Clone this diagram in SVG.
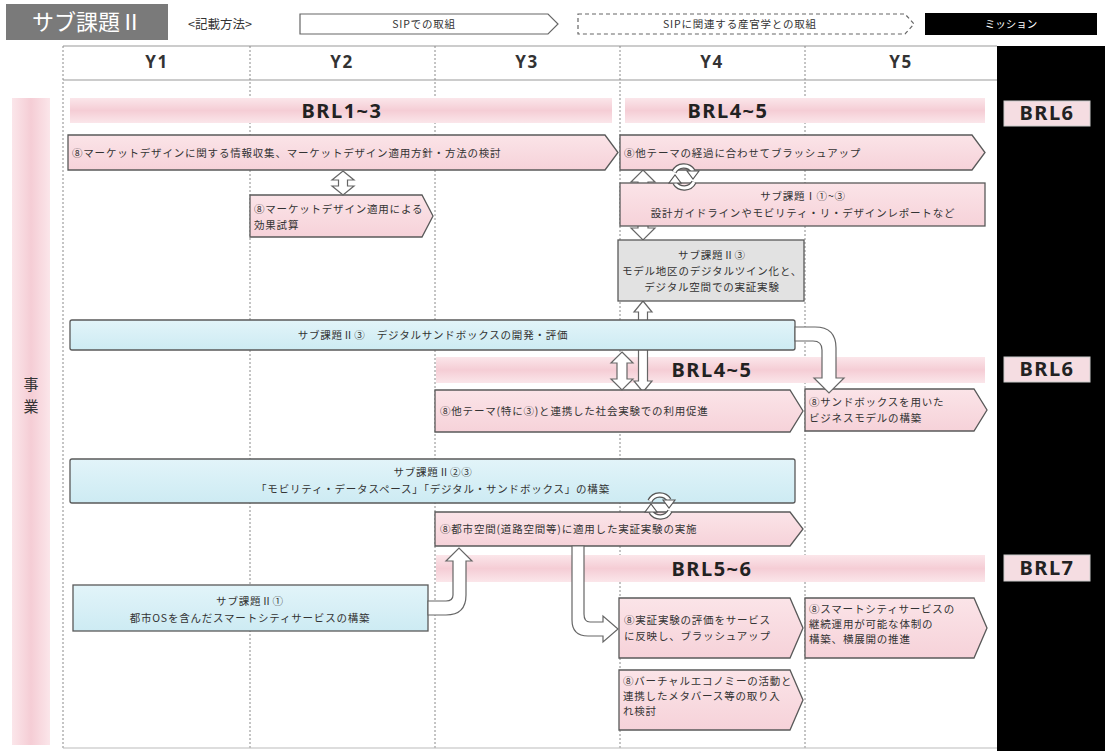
<svg xmlns="http://www.w3.org/2000/svg" width="1105" height="751" viewBox="0 0 1105 751">
<defs>
<style>
.jp{font-family:"Noto Sans CJK JP","Noto Sans",sans-serif;}
.t{font-family:"Noto Sans CJK JP","Noto Sans",sans-serif;font-size:10.5px;letter-spacing:0.8px;fill:#333;}
.tc{text-anchor:middle;}
.brl{font-family:"Noto Sans","Noto Sans CJK JP",sans-serif;font-weight:bold;font-size:20px;letter-spacing:1.5px;fill:#222;text-anchor:middle;}
.yh{font-family:"Noto Sans","Liberation Sans",sans-serif;font-weight:bold;font-size:17px;letter-spacing:1.5px;fill:#333;text-anchor:middle;}
.pent{fill:url(#pk);stroke:#595959;stroke-width:1.3;}
.blue{fill:url(#bl);stroke:#595959;stroke-width:1.3;}
.gray{fill:#e2e2e2;stroke:#595959;stroke-width:1.3;}
.band{fill:url(#band);}
.div{stroke:#8a8a8a;stroke-width:1;stroke-dasharray:2 2;fill:none;}
.hl{fill:#fff;stroke:#666;stroke-width:1.2;}
.mis{fill:#f5dde2;stroke:#ccc;stroke-width:1;}
</style>
<linearGradient id="band" x1="0" y1="0" x2="0" y2="1">
<stop offset="0" stop-color="#fbe6ea"/><stop offset="0.5" stop-color="#f5cdd5"/><stop offset="1" stop-color="#fbe6ea"/>
</linearGradient>
<linearGradient id="vband" x1="0" y1="0" x2="1" y2="0">
<stop offset="0" stop-color="#fbe6ea"/><stop offset="0.5" stop-color="#f5cdd5"/><stop offset="1" stop-color="#fbe6ea"/>
</linearGradient>
<linearGradient id="pk" x1="0" y1="0" x2="0" y2="1">
<stop offset="0" stop-color="#fbe4e8"/><stop offset="1" stop-color="#f6d2d9"/>
</linearGradient>
<linearGradient id="bl" x1="0" y1="0" x2="0" y2="1">
<stop offset="0" stop-color="#e2f4f9"/><stop offset="1" stop-color="#cdebf3"/>
</linearGradient>
<symbol id="cyc" viewBox="-16 -16 32 32" overflow="visible">
<path d="M-10,-5 A11,11 0 0 1 9,-6" fill="none" stroke="#555" stroke-width="5.5"/>
<path d="M-10,-5 A11,11 0 0 1 9,-6" fill="none" stroke="#fff" stroke-width="3"/>
<polygon points="3,-6 15,-6 9,2" fill="#fff" stroke="#555" stroke-width="1.1"/>
<path d="M10,5 A11,11 0 0 1 -9,6" fill="none" stroke="#555" stroke-width="5.5"/>
<path d="M10,5 A11,11 0 0 1 -9,6" fill="none" stroke="#fff" stroke-width="3"/>
<polygon points="-3,6 -15,6 -9,-2" fill="#fff" stroke="#555" stroke-width="1.1"/>
</symbol>
</defs>
<rect width="1105" height="751" fill="#fff"/>

<!-- legend header -->
<g id="title">
<rect x="6" y="4" width="162" height="36" fill="#7a7a7a"/>
<text x="87" y="30" class="jp" font-size="22" fill="#fff" text-anchor="middle">サブ課題Ⅱ</text>
</g>
<g id="legend">
<text x="188" y="29" class="jp" font-size="12.5" fill="#333">&lt;記載方法&gt;</text>
<path d="M300,14 L548,14 L558,24 L548,34 L300,34 Z" fill="#fff" stroke="#666" stroke-width="1.2"/>
<text x="424" y="28" class="t tc">SIPでの取組</text>
<path d="M578,14 L905,14 L914,24 L905,34 L578,34 Z" fill="#fff" stroke="#666" stroke-width="1.2" stroke-dasharray="4 3"/>
<text x="740" y="28" class="t tc">SIPに関連する産官学との取組</text>
<rect x="925" y="13" width="172" height="22" fill="#000"/>
<text x="1011" y="28" class="jp" font-size="10.5" fill="#fff" text-anchor="middle">ミッション</text>
</g>

<!-- grid -->
<g id="grid">
<rect x="997" y="46" width="108" height="705" fill="#000"/>
<line x1="63" y1="46" x2="997" y2="46" stroke="#999" stroke-width="1"/>
<line x1="63" y1="80" x2="997" y2="80" stroke="#999" stroke-width="1"/>
<line x1="63" y1="46" x2="63" y2="748" class="div"/>
<line x1="250" y1="46" x2="250" y2="748" class="div"/>
<line x1="435" y1="46" x2="435" y2="748" class="div"/>
<line x1="620" y1="46" x2="620" y2="748" class="div"/>
<line x1="805" y1="46" x2="805" y2="748" class="div"/>
<line x1="63" y1="748" x2="997" y2="748" stroke="#bbb" stroke-width="1"/>
<text x="157" y="68" class="yh">Y1</text>
<text x="342" y="68" class="yh">Y2</text>
<text x="527" y="68" class="yh">Y3</text>
<text x="712" y="68" class="yh">Y4</text>
<text x="901" y="68" class="yh">Y5</text>
</g>

<!-- side label -->
<g id="side">
<rect x="12" y="98" width="38" height="647" fill="url(#vband)"/>
<text x="31" y="390" class="jp" font-size="15" fill="#333" text-anchor="middle">事</text>
<text x="31" y="412" class="jp" font-size="15" fill="#333" text-anchor="middle">業</text>
</g>

<!-- BRL bands -->
<g id="bands">
<rect x="70" y="98" width="542" height="25" class="band"/>
<text x="342" y="118" class="brl">BRL1~3</text>
<rect x="625" y="98" width="360" height="25" class="band"/>
<text x="728" y="118" class="brl">BRL4~5</text>
<rect x="436" y="357" width="549" height="26" class="band"/>
<text x="712" y="377" class="brl">BRL4~5</text>
<rect x="436" y="555" width="549" height="27" class="band"/>
<text x="712" y="576" class="brl">BRL5~6</text>
</g>

<!-- mission column -->
<g id="mission">
<rect x="1004" y="101" width="86" height="25" class="mis"/>
<text x="1047" y="120" class="brl">BRL6</text>
<rect x="1004" y="357" width="86" height="25" class="mis"/>
<text x="1047" y="376" class="brl">BRL6</text>
<rect x="1004" y="555" width="86" height="26" class="mis"/>
<text x="1047" y="575" class="brl">BRL7</text>
</g>

<!-- connectors behind nodes -->
<g id="connectors-back">
<path d="M643,170 L655,182 L648,182 L648,228 L655,228 L643,240 L631,228 L638,228 L638,182 L631,182 Z" class="hl"/>
<path d="M643,301 L652,312 L647.5,312 L647.5,381 L652,381 L643,392 L634,381 L638.5,381 L638.5,312 L634,312 Z" class="hl"/>
</g>

<!-- nodes -->
<g id="n1">
<path d="M68,135 L605,135 L618,152.5 L605,170 L68,170 Z" class="pent"/>
<text x="72" y="157" class="t">⑧マーケットデザインに関する情報収集、マーケットデザイン適用方針・方法の検討</text>
</g>
<g id="n2">
<path d="M620,135 L972,135 L985,152.5 L972,170 L620,170 Z" class="pent"/>
<text x="624" y="157" class="t">⑧他テーマの経過に合わせてブラッシュアップ</text>
</g>
<g id="n3">
<rect x="620" y="183" width="365" height="43" class="pent"/>
<text x="803" y="200" class="t tc">サブ課題Ⅰ①~③</text>
<text x="803" y="217" class="t tc">設計ガイドラインやモビリティ・リ・デザインレポートなど</text>
</g>
<g id="n4">
<path d="M250,195 L422,195 L433,216 L422,237 L250,237 Z" class="pent"/>
<text x="254" y="213" class="t">⑧マーケットデザイン適用による</text>
<text x="254" y="229" class="t">効果試算</text>
</g>
<g id="n5">
<rect x="618" y="240" width="186" height="61" class="gray"/>
<text x="712" y="259" class="t tc">サブ課題Ⅱ③</text>
<text x="712" y="275" class="t tc">モデル地区のデジタルツイン化と、</text>
<text x="712" y="291" class="t tc">デジタル空間での実証実験</text>
</g>
<g id="n6">
<rect x="70" y="320" width="725" height="30" rx="2" class="blue"/>
<text x="433" y="339" class="t tc">サブ課題Ⅱ③　デジタルサンドボックスの開発・評価</text>
</g>
<g id="n7">
<path d="M435,390 L790,390 L803,411 L790,432 L435,432 Z" class="pent"/>
<text x="440" y="415" class="t">⑧他テーマ(特に③)と連携した社会実験での利用促進</text>
</g>
<g id="n8">
<path d="M805,389 L974,389 L987,410 L974,431 L805,431 Z" class="pent"/>
<text x="809" y="406" class="t">⑧サンドボックスを用いた</text>
<text x="809" y="422" class="t">ビジネスモデルの構築</text>
</g>
<g id="n9">
<rect x="70" y="459" width="725" height="44" rx="2" class="blue"/>
<text x="433" y="476" class="t tc">サブ課題Ⅱ②③</text>
<text x="433" y="493" class="t tc">「モビリティ・データスペース」「デジタル・サンドボックス」の構築</text>
</g>
<g id="n10">
<path d="M435,512 L790,512 L803,529 L790,546 L435,546 Z" class="pent"/>
<text x="440" y="533" class="t">⑧都市空間(道路空間等)に適用した実証実験の実施</text>
</g>
<g id="n11">
<rect x="73" y="585" width="355" height="46" class="blue"/>
<text x="250" y="605" class="t tc">サブ課題Ⅱ①</text>
<text x="250" y="622" class="t tc">都市OSを含んだスマートシティサービスの構築</text>
</g>
<g id="n12">
<path d="M619,598 L790,598 L803,628 L790,658 L619,658 Z" class="pent"/>
<text x="624" y="624" class="t">⑧実証実験の評価をサービス</text>
<text x="624" y="640" class="t">に反映し、ブラッシュアップ</text>
</g>
<g id="n13">
<path d="M805,598 L974,598 L987,628 L974,658 L805,658 Z" class="pent"/>
<text x="809" y="613" class="t">⑧スマートシティサービスの</text>
<text x="809" y="628" class="t">継続運用が可能な体制の</text>
<text x="809" y="643" class="t">構築、横展開の推進</text>
</g>
<g id="n14">
<path d="M619,670 L790,670 L803,700 L790,730 L619,730 Z" class="pent"/>
<text x="623" y="685" class="t">⑧バーチャルエコノミーの活動と</text>
<text x="623" y="700" class="t">連携したメタバース等の取り入</text>
<text x="623" y="715" class="t">れ検討</text>
</g>

<!-- connectors on top -->
<g id="connectors">
<path d="M343,171 L354,180 L347.5,180 L347.5,186 L354,186 L343,195 L332,186 L338.5,186 L338.5,180 L332,180 Z" class="hl"/>
<path d="M622,352 L633,363 L627,363 L627,379 L633,379 L622,390 L611,379 L617,379 L617,363 L611,363 Z" class="hl"/>
<path d="M795,327 L815,327 Q836,327 836,348 L836,378 L844,378 L829,393 L814,378 L822,378 L822,350 Q822,341 813,341 L795,341 Z" class="hl"/>
<path d="M428,615 L446,615 Q466,615 466,595 L466,561 L472,561 L459,548 L446,561 L453,561 L453,595 Q453,601 446,601 L428,601 Z" class="hl"/>
<path d="M572,546 L572,620 Q572,636 588,636 L603,636 L603,642 L618,629 L603,616 L603,622 L590,622 Q584,622 584,614 L584,546 Z" class="hl"/>
<use href="#cyc" x="668" y="161" width="32" height="32"/>
<use href="#cyc" x="644" y="490" width="32" height="32"/>
</g>
</svg>
